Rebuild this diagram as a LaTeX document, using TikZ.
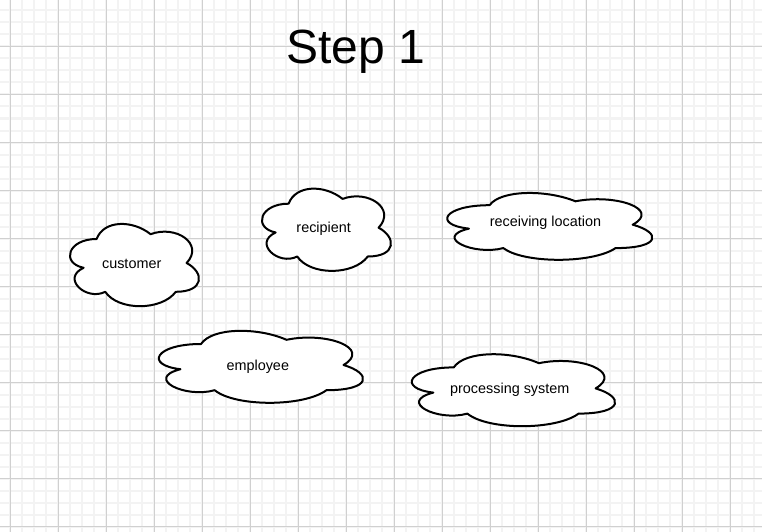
\documentclass[tikz,border=0pt]{standalone}
\usepackage{fontspec}
\setmainfont{Liberation Sans}
\definecolor{minorgrid}{RGB}{243,243,243}
\definecolor{majorgrid}{RGB}{208,208,208}
\tikzset{
  minorline/.style={draw=minorgrid, line width=2pt},
  majorline/.style={draw=majorgrid, line width=1pt},
  cloudline/.style={draw=black, fill=white, line width=2pt, line join=round},
  lbl/.style={font=\fontsize{14.4}{16}\selectfont, anchor=base, inner sep=0pt},
  titlelbl/.style={font=\fontsize{48}{56}\selectfont, anchor=base, inner sep=0pt}
}
\newcommand\dcloud[5]{%
  \begin{scope}[shift={(#2pt,-#3pt)},x=#4pt,y=-#5pt]
    \draw[cloudline] (0.25,0.25) .. controls (0.05,0.25) and (0,0.5) .. (0.16,0.55)
      .. controls (0,0.66) and (0.18,0.9) .. (0.31,0.8)
      .. controls (0.4,1) and (0.7,1) .. (0.8,0.8)
      .. controls (1,0.8) and (1,0.6) .. (0.875,0.5)
      .. controls (1,0.3) and (0.8,0.1) .. (0.625,0.2)
      .. controls (0.5,0.05) and (0.3,0.05) .. (0.25,0.25) -- cycle;
    \coordinate (#1) at (0.5,0.5);
  \end{scope}}
\begin{document}
\begin{tikzpicture}[x=1pt,y=-1pt]
  \fill[white] (0,0) rectangle (762,532);
  \useasboundingbox (0,0) rectangle (762,532);
  % grid
  \foreach \i in {0,...,62} \draw[minorline] ({10+12*\i},0) -- ({10+12*\i},532);
  \foreach \j in {0,...,43} \draw[minorline] (0,{10.5+12*\j}) -- (762,{10.5+12*\j});
  \foreach \i in {0,...,15} \draw[majorline] ({10+48*\i},0) -- ({10+48*\i},532);
  \foreach \j in {0,...,10} \draw[majorline] (0,{46.5+48*\j}) -- (762,{46.5+48*\j});
  % title
  \node[titlelbl] (title) at (356,63.3) {Step 1};
  % clouds
  \dcloud{customercloud}{60.6}{215}{144}{96}
  \dcloud{recipientcloud}{252.6}{179.7}{144}{96}
  \dcloud{receivingcloud}{432.3}{185.7}{229}{78}
  \dcloud{employeecloud}{144}{323}{228}{84}
  \dcloud{processingcloud}{397}{346.4}{227}{84}
  % labels
  \node[lbl] (customer) at (131.7,268.7) {customer};
  \node[lbl] (recipient) at (323.7,232.2) {recipient};
  \node[lbl] (receiving) at (545.5,226.2) {receiving location};
  \node[lbl] (employee) at (257.8,370.2) {employee};
  \node[lbl] (processing) at (509.8,393.8) {processing system};
\end{tikzpicture}
\end{document}
